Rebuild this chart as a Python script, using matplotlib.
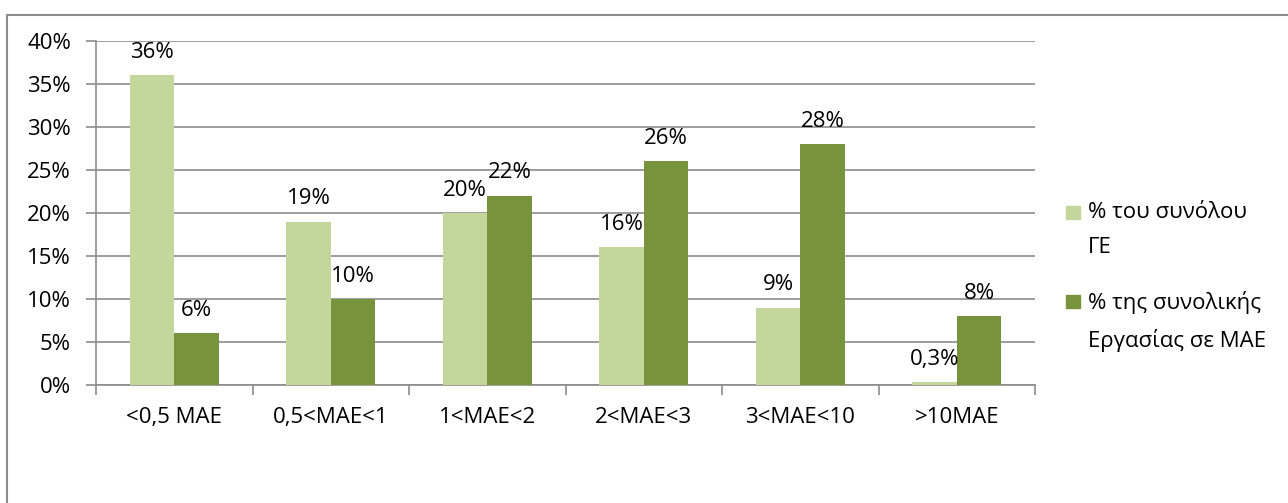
import numpy as np
import matplotlib.pyplot as plt
from matplotlib.patches import Rectangle

plt.rcParams['font.family'] = ['Open Sans', 'DejaVu Sans']

# dados
categorias = ['<0,5 ΜΑΕ', '0,5<ΜΑΕ<1', '1<ΜΑΕ<2', '2<ΜΑΕ<3', '3<ΜΑΕ<10', '>10ΜΑΕ']
total_ge = [36, 19, 20, 16, 9, 0.3]
ergasia_mae = [6, 10, 22, 26, 28, 8]
rotulos_ge = ['36%', '19%', '20%', '16%', '9%', '0,3%']
rotulos_mae = ['6%', '10%', '22%', '26%', '28%', '8%']
nome_ge = '% του συνόλου\nΓΕ'
nome_mae = '% της συνολικής\nΕργασίας σε ΜΑΕ'

cor_clara = '#C3D69B'
cor_escura = '#77933C'
cinza = '#8c8c8c'

W, H = 1288, 503
fig = plt.figure(figsize=(W / 100, H / 100), dpi=100)
ax = fig.add_axes([96 / W, 1 - 385 / H, (1035 - 96) / W, (385 - 41) / H])

# moldura externa (só esquerda e topo visíveis)
fig.patches.append(Rectangle((7 / W, -0.1), 1.2, 1 - 15 / H + 0.1,
                             transform=fig.transFigure, fill=False,
                             edgecolor=cinza, linewidth=1.5))

x = np.arange(len(categorias))
larg = 0.284
b1 = ax.bar(x - larg / 2, total_ge, larg, color=cor_clara, zorder=3)
b2 = ax.bar(x + larg / 2, ergasia_mae, larg, color=cor_escura, zorder=3)

fs = 16
for rect, txt in zip(b1, rotulos_ge):
    ax.annotate(txt, (rect.get_x() + rect.get_width() / 2, rect.get_height()),
                xytext=(0, 9), textcoords='offset points', ha='center',
                va='bottom', fontsize=fs)
for rect, txt in zip(b2, rotulos_mae):
    ax.annotate(txt, (rect.get_x() + rect.get_width() / 2, rect.get_height()),
                xytext=(0, 9), textcoords='offset points', ha='center',
                va='bottom', fontsize=fs)

ax.set_xlim(-0.5, len(categorias) - 0.5)
ax.set_ylim(0, 40)
ax.set_yticks(np.arange(0, 41, 5))
ax.set_yticklabels(['%d%%' % v for v in range(0, 41, 5)], fontsize=fs)
ax.yaxis.grid(True, color=cinza, linewidth=1.2, zorder=0)

ax.set_xticks(x)
ax.set_xticklabels(categorias, fontsize=fs)
ax.set_xticks(np.arange(-0.5, len(categorias)), minor=True)
ax.tick_params(axis='x', which='major', length=0, pad=16)
ax.tick_params(axis='x', which='minor', length=7, color=cinza, width=1.2)
ax.tick_params(axis='y', length=7, color=cinza, width=1.2, pad=11)

for lado in ['top', 'right']:
    ax.spines[lado].set_visible(False)
for lado in ['left', 'bottom']:
    ax.spines[lado].set_color(cinza)
    ax.spines[lado].set_linewidth(1.2)

# legenda desenhada à mão (linhas bem espaçadas, quadrado na 1a linha)
for nome, cor, y0 in [(nome_ge, cor_clara, 213), (nome_mae, cor_escura, 302)]:
    fig.patches.append(Rectangle((1066 / W, 1 - (y0 + 6) / H), 14 / W, 13 / H,
                                 transform=fig.transFigure, color=cor))
    fig.text(1088 / W, 1 - (y0 - 11) / H, nome, fontsize=fs, va='top',
             ha='left', linespacing=1.85)

fig.savefig('out.png', dpi=100)
